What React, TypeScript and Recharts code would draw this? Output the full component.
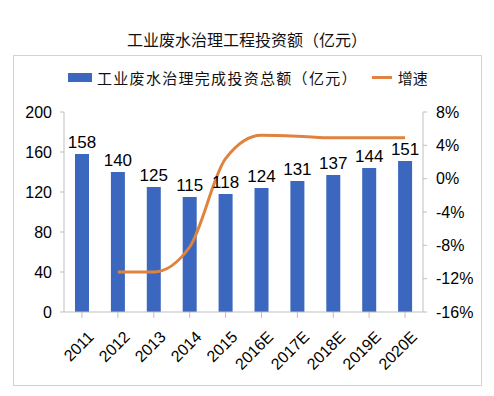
import { ComposedChart, Bar, Line, XAxis, YAxis, LabelList } from 'recharts'

const years = ['2011', '2012', '2013', '2014', '2015', '2016E', '2017E', '2018E', '2019E', '2020E']
const investment = [158, 140, 125, 115, 118, 124, 131, 137, 144, 151]
const growth = [null, -11.2, -11.2, -8.2, 2.4, 5.2, 5.1, 4.9, 4.9, 4.9]
const leftTicks = [0, 40, 80, 120, 160, 200]
const rightTicks = [-16, -12, -8, -4, 0, 4, 8]

const BLUE = '#3b67bf'
const ORANGE = '#e0833f'
const AXIS = '#bfbfbf'
const NUM_FONT = '"Liberation Sans", Arial, sans-serif'
const CJK_FONT = '"Noto Sans CJK SC", sans-serif'

const data = years.map((y, i) => ({ year: y, value: investment[i], growth: growth[i] }))

function RotatedTick({ x, y, payload }: any) {
  const ax = x + 5
  const ay = y + 10
  return (
    <text
      x={ax}
      y={ay}
      transform={`rotate(-45 ${ax} ${ay})`}
      textAnchor="end"
      dominantBaseline="hanging"
      fontSize={16}
      fontFamily={NUM_FONT}
      fill="#000"
    >
      {payload.value}
    </text>
  )
}

export default function App() {
  return (
    <div style={{ position: 'absolute', left: 0, top: 0, width: 494, height: 396, background: '#fff' }}>
      <div
        style={{
          position: 'absolute',
          top: 27,
          left: 0,
          width: 494,
          textAlign: 'center',
          fontFamily: CJK_FONT,
          fontSize: 16,
          color: '#111',
        }}
      >
        工业废水治理工程投资额（亿元）
      </div>
      <div
        style={{
          position: 'absolute',
          left: 13,
          top: 55,
          width: 469,
          height: 331,
          border: '1px solid #d3d3d3',
          boxSizing: 'border-box',
        }}
      />
      <div
        style={{
          position: 'absolute',
          top: 67,
          left: 68,
          display: 'flex',
          alignItems: 'center',
          fontFamily: CJK_FONT,
          fontSize: 15,
          color: '#111',
          whiteSpace: 'nowrap',
        }}
      >
        <span style={{ display: 'inline-block', width: 24, height: 9, background: BLUE, marginRight: 5 }} />
        <span style={{ letterSpacing: 1.3 }}>工业废水治理完成投资总额（亿元）</span>
        <span style={{ display: 'inline-block', width: 20, height: 3, background: ORANGE, marginLeft: 14, marginRight: 6 }} />
        <span>增速</span>
      </div>
      <ComposedChart
        width={494}
        height={396}
        data={data}
        margin={{ top: 112, right: 11, left: 14, bottom: 24 }}
        style={{ position: 'absolute', left: 0, top: 0 }}
      >
        <XAxis
          dataKey="year"
          tick={<RotatedTick />}
          interval={0}
          height={60}
          stroke={AXIS}
          tickLine={{ stroke: AXIS }}
        />
        <YAxis
          yAxisId="left"
          domain={[0, 200]}
          ticks={leftTicks}
          width={50}
          stroke={AXIS}
          tick={{ fontSize: 16, fill: '#000', fontFamily: NUM_FONT }}
          tickLine={{ stroke: AXIS }}
          tickSize={4}
          tickMargin={8}
        />
        <YAxis
          yAxisId="right"
          orientation="right"
          domain={[-16, 8]}
          ticks={rightTicks}
          width={60}
          stroke={AXIS}
          tickFormatter={(v) => `${v}%`}
          tick={{ fontSize: 16, fill: '#000', fontFamily: NUM_FONT }}
          tickLine={{ stroke: AXIS }}
          tickSize={4}
          tickMargin={9}
        />
        <Bar yAxisId="left" dataKey="value" fill={BLUE} barSize={14} isAnimationActive={false}>
          <LabelList
            dataKey="value"
            position="top"
            offset={6}
            fill="#000"
            fontSize={17}
            fontFamily={NUM_FONT}
          />
        </Bar>
        <Line
          yAxisId="right"
          type="monotone"
          dataKey="growth"
          stroke={ORANGE}
          strokeWidth={3}
          dot={false}
          connectNulls={false}
          isAnimationActive={false}
        />
      </ComposedChart>
    </div>
  )
}
